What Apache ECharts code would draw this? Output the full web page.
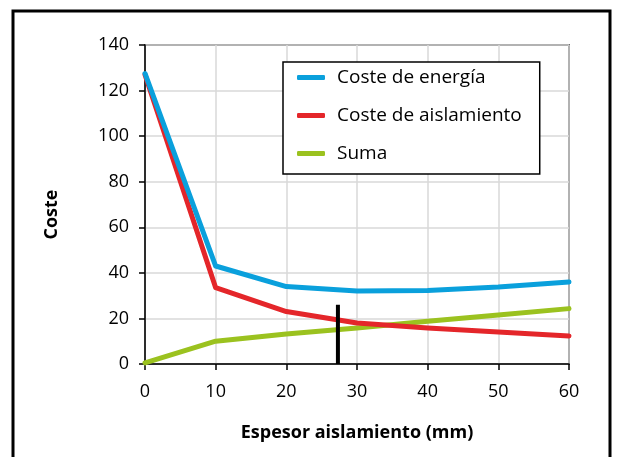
<!DOCTYPE html>
<html>
<head>
<meta charset="utf-8">
<script src="https://cdn.jsdelivr.net/npm/echarts@6/dist/echarts.min.js"></script>
<style>
  html, body { margin: 0; padding: 0; background: #fff; }
  #chart { width: 618px; height: 457px; }
</style>
</head>
<body>
<div id="chart"></div>
<script>
// espesor (mm) y costes
var espesor = [0, 10, 20, 30, 40, 50, 60];
var costeEnergia = [127.5, 43, 34, 32, 32.3, 33.8, 36];
var costeAislamiento = [127, 33.5, 23, 18, 15.8, 14, 12.3];
var suma = [0.5, 10, 13.2, 15.8, 18.8, 21.5, 24.3];
var optimo = [[27.3, 0], [27.3, 26]];

function pares(ys) {
    return espesor.map(function (x, i) { return [x, ys[i]]; });
}

var chart = echarts.init(document.getElementById('chart'));
var fuente = 'Open Sans';

var option = {
    animation: false,
    textStyle: { fontFamily: fuente },
    graphic: [{
        type: 'rect',
        shape: { x: 13, y: 11, width: 597, height: 470 },
        style: { fill: 'none', stroke: '#000', lineWidth: 3 },
        z: 100
    }],
    grid: {
        left: 145, right: 49, top: 45, bottom: 93,
        show: true, borderColor: '#000', borderWidth: 1.5
    },
    legend: {
        orient: 'vertical',
        left: 283, top: 62,
        padding: [6, 18, 11, 14],
        itemGap: 19,
        itemWidth: 28, itemHeight: 5,
        borderColor: '#000', borderWidth: 1.5,
        backgroundColor: '#fff',
        icon: 'roundRect',
        textStyle: { fontSize: 19, color: '#000', fontFamily: fuente, padding: [0, 0, 0, 7] },
        data: ['Coste de energía', 'Coste de aislamiento', 'Suma']
    },
    xAxis: {
        type: 'value', min: 0, max: 60, interval: 10,
        name: 'Espesor aislamiento (mm)',
        nameLocation: 'middle', nameGap: 60,
        nameTextStyle: { fontSize: 18, fontWeight: 'bold', color: '#000' },
        axisLine: { lineStyle: { color: '#000', width: 1.5 } },
        axisTick: { show: true, length: 6, lineStyle: { color: '#000', width: 1.5 } },
        axisLabel: { fontSize: 18, color: '#000', margin: 19 },
        splitLine: { show: true, lineStyle: { color: '#d9d9d9', width: 1.5 } }
    },
    yAxis: {
        type: 'value', min: 0, max: 140, interval: 20,
        name: 'Coste',
        nameLocation: 'middle', nameGap: 84,
        nameTextStyle: { fontSize: 18, fontWeight: 'bold', color: '#000', padding: [0, 20, 0, 0] },
        axisLine: { show: true, lineStyle: { color: '#000', width: 1.5 } },
        axisTick: { show: true, length: 6, lineStyle: { color: '#000', width: 1.5 } },
        axisLabel: { fontSize: 18, color: '#000', margin: 16 },
        splitLine: { show: true, lineStyle: { color: '#d9d9d9', width: 1.5 } }
    },
    series: [
        {
            name: 'Coste de aislamiento', type: 'line', data: pares(costeAislamiento),
            symbol: 'none', color: '#e4262a', z: 3,
            lineStyle: { width: 5, cap: 'round', join: 'round' }
        },
        {
            name: 'Suma', type: 'line', data: pares(suma),
            symbol: 'none', color: '#9bc21f', z: 2,
            lineStyle: { width: 5, cap: 'round', join: 'round' }
        },
        {
            name: 'Coste de energía', type: 'line', data: pares(costeEnergia),
            symbol: 'none', color: '#0aa0dc', z: 4,
            lineStyle: { width: 5, cap: 'round', join: 'round' }
        },
        {
            name: 'optimo', type: 'line', data: optimo,
            symbol: 'none', color: '#000', z: 5,
            lineStyle: { width: 4 }
        }
    ]
};

chart.setOption(option);
</script>
</body>
</html>
